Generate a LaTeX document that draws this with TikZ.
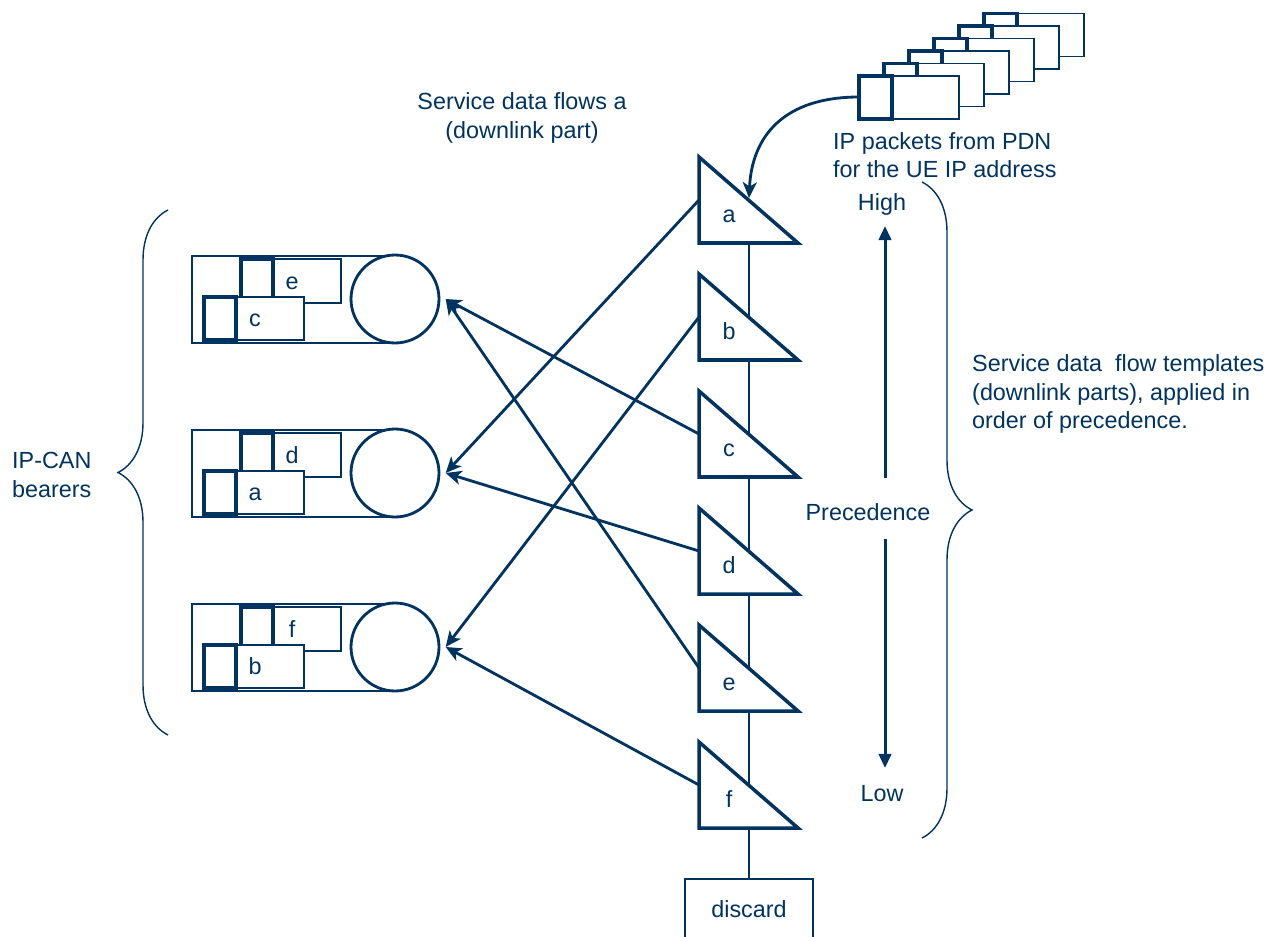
\documentclass[tikz,border=0pt]{standalone}
\usepackage{fontspec}
\setmainfont{Liberation Sans}
\usetikzlibrary{arrows.meta,decorations.pathreplacing}
\definecolor{navy}{RGB}{0,51,95}

\tikzset{
  every node/.style={text=navy,font=\fontsize{13.3}{16}\selectfont},
  thinbox/.style={draw=navy,line width=0.85pt,fill=white},
  thickbox/.style={draw=navy,line width=2.2pt,fill=white},
  bcirc/.style={circle,draw=navy,line width=1.6pt,fill=white,minimum size=1.76cm,inner sep=0pt},
  tri/.style={draw=navy,line width=2pt,fill=white},
  flow/.style={draw=navy,line width=1.6pt,-{Stealth[length=9pt,width=8pt,inset=2.5pt]}},
  prec/.style={draw=navy,line width=1.7pt,-{Triangle[length=8pt,width=7pt]}},
  brc/.style={draw=navy,line width=0.8pt,decorate,decoration={brace,amplitude=1cm}},
  discbox/.style={draw=navy,line width=1.6pt,minimum width=2.56cm,minimum height=1.2cm},
}

\begin{document}
\begin{tikzpicture}[x=0.02cm,y=-0.02cm]
\useasboundingbox (0,0) rectangle (1284,936);

% braces
\draw[brc] (168,735) -- (168,210);
\draw[brc] (922,182) -- (922,838);

% texts
\node[align=center] (sdf) at (522,118) {Service data flows a\\(downlink part)};
\node[align=left,anchor=west] (ipp) at (827,155) {IP packets from PDN\\for the UE IP address};
\node[align=left,anchor=west] (tmpl) at (966,394) {Service data\ \ flow templates\\(downlink parts), applied in\\order of precedence.};
\node[align=left,anchor=west] (ipcan) at (6,475) {IP-CAN\\bearers};
\node (hi) at (882,204) {High};
\node (lo) at (882,794) {Low};
\node (prc) at (868,512) {Precedence};

% precedence arrows
\coordinate (upS) at (885,478);
\coordinate (upE) at (885,226);
\coordinate (dnS) at (885,539);
\coordinate (dnE) at (885,768);
\draw[prec] (upS) -- (upE);
\draw[prec] (dnS) -- (dnE);

% IP-CAN bearers
\foreach \i/\bk/\fr [evaluate=\i as \o using 174*\i] in {0/e/c,1/d/a,2/f/b} {
  \draw[thinbox] (192,256+\o) rectangle (395,343+\o);
  \node[bcirc] (bc\i) at (395,299+\o) {};
  \draw[thinbox] (273,259+\o) rectangle (341,303+\o);
  \draw[thickbox] (241,259+\o) rectangle (273,303+\o);
  \draw[thinbox] (236,297+\o) rectangle (304,340+\o);
  \draw[thickbox] (204,297+\o) rectangle (236,340+\o);
  \node[anchor=base] (pk\bk) at (292,289+\o) {\bk};
  \node[anchor=base] (pk\fr) at (255,326+\o) {\fr};
}

% packets from PDN
\foreach \j in {5,4,...,0} {
  \draw[thinbox] (892+25*\j,76-12.5*\j) rectangle (959+25*\j,119-12.5*\j);
  \draw[thickbox] (859+25*\j,76-12.5*\j) rectangle (892+25*\j,119-12.5*\j);
}
\coordinate (pdn) at (859,97);

% discard and filter chain
\node[discbox] (disc) at (749,909) {discard\hspace{0.36cm}};
\draw[navy,line width=0.8pt] (749,200) -- (disc.north);

\foreach \l [count=\i from 0, evaluate=\i as \ty using 157+117*\i] in {a,b,c,d,e,f} {
  \draw[tri] (699,\ty) -- (699,\ty+86) -- (798,\ty+86) -- cycle;
  \node[anchor=base] (lb\l) at (729,\ty+65) {\l};
  \coordinate (t\l) at (699,\ty+43);
}
\coordinate (ha) at (749,198);

% flows
\draw[flow] (ta) -- ([xshift=3pt]bc1.east);
\draw[flow] (tb) -- ([xshift=3pt]bc2.east);
\draw[flow] (tc) -- ([xshift=3pt]bc0.east);
\draw[flow] (td) -- ([xshift=3pt]bc1.east);
\draw[flow] (te) -- ([xshift=3pt]bc0.east);
\draw[flow] (tf) -- ([xshift=3pt]bc2.east);
\draw[flow] (pdn) .. controls (785,97) and (752,135) .. (ha);
\end{tikzpicture}
\end{document}
